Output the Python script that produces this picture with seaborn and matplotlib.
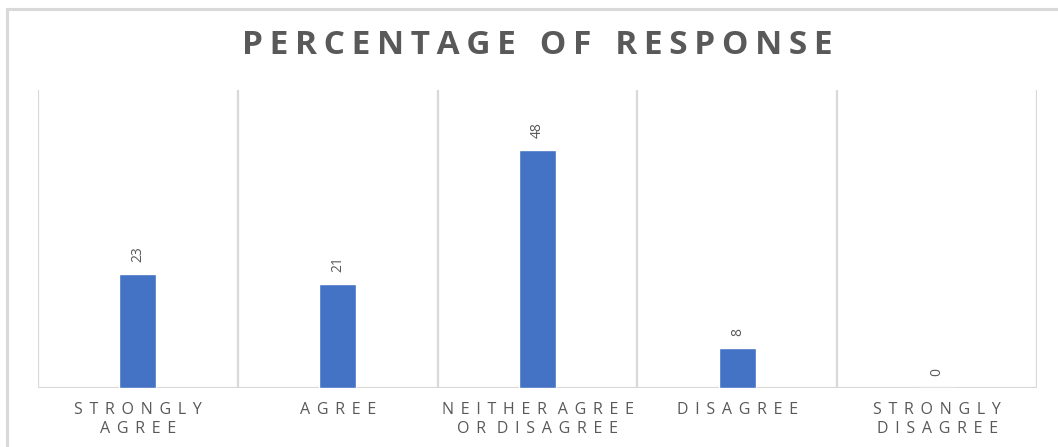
import matplotlib
matplotlib.use("Agg")
import matplotlib.pyplot as plt
import matplotlib.patches as mpatches
import seaborn as sns
import pandas as pd

# Survey responses (percent)
categories = ["Strongly Agree", "Agree", "Neither Agree or Disagree", "Disagree", "Strongly Disagree"]
values = [23, 21, 48, 8, 0]
tick_labels = ["STRONGLY\nAGREE", "AGREE", "NEITHER AGREE\nOR DISAGREE", "DISAGREE", "STRONGLY\nDISAGREE"]
title = "PERCENTAGE OF RESPONSE"

BAR = "#4472C4"
TEXT = "#595959"
GRID = "#D9D9D9"

sns.set_theme(style="white")
plt.rcParams["font.family"] = ["Open Sans", "DejaVu Sans"]


def spaced(text, gap, word_gap):
    """Spread letters apart to mimic tracked-out caps."""
    lines = []
    for line in text.split("\n"):
        words = [gap.join(w) for w in line.split(" ")]
        lines.append(word_gap.join(words))
    return "\n".join(lines)


df = pd.DataFrame({"category": categories, "value": values})

W, H = 1058, 447
fig = plt.figure(figsize=(W / 100, H / 100), dpi=100)
fig.patch.set_facecolor("white")

ax = fig.add_axes([38 / W, 59 / H, 999 / W, 298 / H])
sns.barplot(data=df, x="category", y="value", color=BAR, saturation=1,
            width=0.185, ax=ax, zorder=3)

ax.set_xlim(-0.5, len(categories) - 0.5)
ax.set_ylim(0, 60)
ax.set_xlabel("")
ax.set_ylabel("")
ax.set_yticks([])
for s in ax.spines.values():
    s.set_visible(False)

# Category separators and baseline
for b in range(len(categories) + 1):
    ax.axvline(b - 0.5, color=GRID, lw=1.6, zorder=1)
ax.axhline(0, color=GRID, lw=1.6, zorder=2)

ax.set_xticks(range(len(categories)))
ax.set_xticklabels([spaced(t, " \u2009", "  \u2009") for t in tick_labels],
                   fontsize=11.5, color=TEXT, linespacing=1.25)
ax.tick_params(axis="x", length=0, pad=10)

# Value labels, rotated, just above each bar
for i, v in enumerate(values):
    ax.annotate(str(v), xy=(i, v), xytext=(0, 12), textcoords="offset pixels",
                rotation=90, ha="center", va="bottom", fontsize=10, color=TEXT)

fig.text(537 / W, 1 - 46 / H, spaced(title, "\u2009", "  \u2009"), ha="center", va="center",
         fontsize=24, fontweight="bold", color=TEXT)

# Chart area border
fig.patches.append(mpatches.Rectangle((6.5 / W, -0.1), 1.2, 1.1 - 9 / H,
                                      transform=fig.transFigure, fill=False,
                                      edgecolor=GRID, lw=2.2))

fig.savefig("out.png", dpi=100)
